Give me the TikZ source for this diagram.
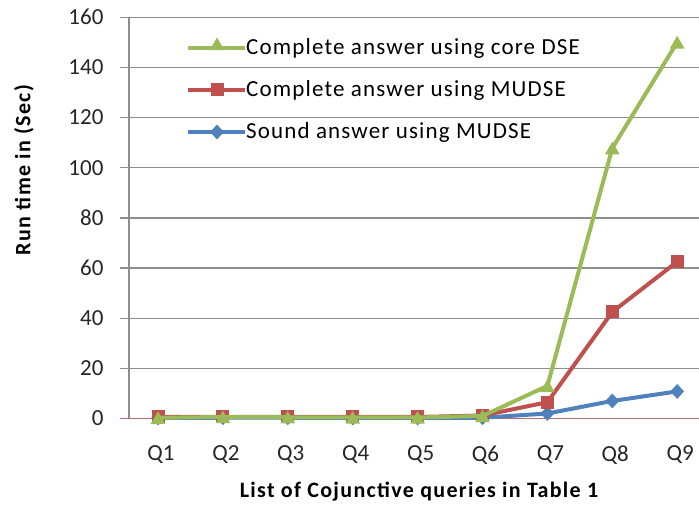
\documentclass[tikz,border=0pt]{standalone}
\usepackage{fontspec}
\setmainfont{Carlito}
\newfontfamily\legendfont[LetterSpace=5]{Carlito}
\newfontfamily\titlefont[LetterSpace=6]{Carlito}
\usetikzlibrary{shapes.geometric}

\definecolor{serblue}{HTML}{4F81BD}
\definecolor{serred}{HTML}{C0504D}
\definecolor{sergreen}{HTML}{9BBB59}
\definecolor{gridgray}{HTML}{8E8E8E}
\definecolor{zeroaxis}{HTML}{B46C6C}
\definecolor{labeltext}{HTML}{262626}

% value -> vertical pixel position
\newcommand{\ypos}[1]{418.5-2.508*(#1)}
% category index -> horizontal pixel position
\newcommand{\xpos}[1]{158+64.9*((#1)-1)}

\begin{document}
\begin{tikzpicture}[x=1pt,y=-1pt,
  ticklabel/.style={font=\fontsize{23}{23}\selectfont, text=labeltext},
  axistitle/.style={font=\titlefont\fontsize{22}{22}\selectfont\bfseries, text=black},
  legendtext/.style={font=\legendfont\fontsize{23}{23}\selectfont, text=black, anchor=west, inner sep=0pt},
  gridline/.style={draw=gridgray, line width=1.3pt},
  serline/.style={line width=4pt, line join=round, line cap=round},
  trimark/.style={regular polygon, regular polygon sides=3, fill=sergreen, draw=none, minimum size=17pt, inner sep=0pt},
  sqmark/.style={rectangle, fill=serred, draw=none, minimum size=13pt, inner sep=0pt},
  dimark/.style={diamond, fill=serblue, draw=none, minimum width=14pt, minimum height=15pt, inner sep=0pt},
]
\useasboundingbox (0,0) rectangle (699,505);
\fill[white] (0,0) rectangle (699,505);

% horizontal grid and value axis
\foreach \v in {20,40,...,160}
  \draw[gridline] (120,{\ypos{\v}}) -- (699,{\ypos{\v}});
\draw[gridline] (129,{\ypos{0}}) -- (129,{\ypos{160}});
\draw[draw=zeroaxis, line width=1.3pt] (120,{\ypos{0}}) -- (699,{\ypos{0}});

% value tick labels
\foreach \v in {0,20,...,160}
  \node[ticklabel, anchor=east] (t\v) at (107,{\ypos{\v}}) {\v};

% category labels
\foreach \i in {1,...,9}
  \node[ticklabel] (q\i) at ({\xpos{\i}+3},455) {Q\i};

% axis titles
\node[axistitle, rotate=90] (ytitle) at (24,170) {Run time in (Sec)};
\node[axistitle] (xtitle) at (419,492) {List of Cojunctive queries in Table 1};

% data points
\foreach \i/\v in {1/0.2,2/0.3,3/0.3,4/0.2,5/0.2,6/0.3,7/2,8/7,9/10.8}
  \coordinate (b\i) at ({\xpos{\i}},{\ypos{\v}});
\foreach \i/\v in {1/0.6,2/0.7,3/0.6,4/0.6,5/0.6,6/1.2,7/6.5,8/42.5,9/62.5}
  \coordinate (r\i) at ({\xpos{\i}},{\ypos{\v}});
\foreach \i/\v in {1/0.3,2/0.6,3/0.5,4/0.4,5/0.4,6/1,7/13,8/107.8,9/150}
  \coordinate (g\i) at ({\xpos{\i}},{\ypos{\v}});

% sound answer using MUDSE
\draw[serline, serblue] (b1) -- (b2) -- (b3) -- (b4) -- (b5) -- (b6) -- (b7) -- (b8) -- (b9);
\foreach \i in {1,...,9} \node[dimark] (bm\i) at (b\i) {};
% complete answer using MUDSE
\draw[serline, serred] (r1) -- (r2) -- (r3) -- (r4) -- (r5) -- (r6) -- (r7) -- (r8) -- (r9);
\foreach \i in {1,...,9} \node[sqmark] (rm\i) at (r\i) {};
% complete answer using core DSE
\draw[serline, sergreen] (g1) -- (g2) -- (g3) -- (g4) -- (g5) -- (g6) -- (g7) -- (g8) -- (g9);
\foreach \i in {1,...,9} \node[trimark] (gm\i) at ([yshift=-2pt]g\i) {};

% legend
\coordinate (lg0) at (188,48);  \coordinate (lg1) at (245,48);
\coordinate (lr0) at (188,90);  \coordinate (lr1) at (245,90);
\coordinate (lb0) at (188,132); \coordinate (lb1) at (245,132);
\draw[serline, sergreen, line cap=butt] (lg0) -- (lg1);
\node[trimark] (lgm) at (217,46) {};
\node[legendtext] (lgt) at (246,48) {Complete answer using core DSE};
\draw[serline, serred, line cap=butt] (lr0) -- (lr1);
\node[sqmark] (lrm) at (217,90) {};
\node[legendtext] (lrt) at (246,90) {Complete answer using MUDSE};
\draw[serline, serblue, line cap=butt] (lb0) -- (lb1);
\node[dimark] (lbm) at (217,132) {};
\node[legendtext] (lbt) at (246,132) {Sound answer using MUDSE};
\end{tikzpicture}
\end{document}
